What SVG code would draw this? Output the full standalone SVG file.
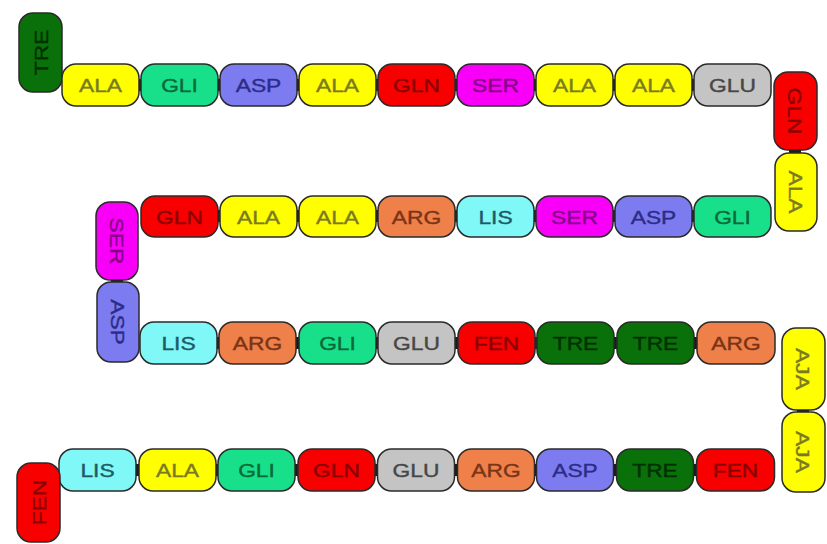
<svg xmlns="http://www.w3.org/2000/svg" width="827" height="544" viewBox="0 0 827 544">
<style>
rect{stroke:#2a2a2a;stroke-width:1.5}
text{font-family:"Liberation Sans",Arial,sans-serif;font-size:19px;text-anchor:middle;stroke-width:0.4}
.ala rect{fill:#ffff00}.ala text{fill:#7a7a24;stroke:#7a7a24}
.gli rect{fill:#18e08a}.gli text{fill:#0a6a3a;stroke:#0a6a3a}
.asp rect{fill:#7c7cf0}.asp text{fill:#2c2c88;stroke:#2c2c88}
.gln rect{fill:#f80000}.gln text{fill:#8a0000;stroke:#8a0000}
.ser rect{fill:#f800f8}.ser text{fill:#860086;stroke:#860086}
.glu rect{fill:#c4c4c4}.glu text{fill:#474747;stroke:#474747}
.lis rect{fill:#80f8f8}.lis text{fill:#1e5a66;stroke:#1e5a66}
.arg rect{fill:#f0804a}.arg text{fill:#7a3416;stroke:#7a3416}
.tre rect{fill:#0a700a}.tre text{fill:#003000;stroke:#003000}
.fen rect{fill:#f80000}.fen text{fill:#8a0000;stroke:#8a0000}
#conn path{stroke:#1a1a1a;stroke-width:12;fill:none}
</style>
<rect x="0" y="0" width="827" height="544" fill="#ffffff" style="stroke:none"/>
<g id="conn">
<path d="M130 85H150M209 85H229M288 85H308M367 85H387M446 85H466M525 85H545M604 85H624M683 85H703"/>
<path d="M209 216H229M288 216H308M367 216H387M446 216H466M525 216H545M604 216H624M683 216H703"/>
<path d="M208 343H228M287 343H308M367 343H387M446 343H467M526 343H546M605 343H626M685 343H706"/>
<path d="M127 470H148M207 470H227M286 470H307M366 470H386M445 470H466M525 470H545M604 470H625M684 470H705"/>
<path d="M795 140V163M117 270V292M803 400V422"/>
</g>
<!-- row 1 -->
<g id="tre1" class="tre" transform="translate(40.5,52.5)"><rect x="-21.5" y="-39.5" width="43" height="79" rx="14"/><text transform="rotate(-90) scale(1.2,1)" y="7">TRE</text></g>
<g id="ala1" class="ala" transform="translate(100.5,85)"><rect x="-38.5" y="-21" width="77" height="42" rx="14"/><text transform="scale(1.2,1)" y="7">ALA</text></g>
<g id="gli1" class="gli" transform="translate(179.5,85)"><rect x="-38.5" y="-21" width="77" height="42" rx="14"/><text transform="scale(1.2,1)" y="7">GLI</text></g>
<g id="asp1" class="asp" transform="translate(258.5,85)"><rect x="-38.5" y="-21" width="77" height="42" rx="14"/><text transform="scale(1.2,1)" y="7">ASP</text></g>
<g id="ala2" class="ala" transform="translate(337.5,85)"><rect x="-38.5" y="-21" width="77" height="42" rx="14"/><text transform="scale(1.2,1)" y="7">ALA</text></g>
<g id="gln1" class="gln" transform="translate(416.5,85)"><rect x="-38.5" y="-21" width="77" height="42" rx="14"/><text transform="scale(1.2,1)" y="7">GLN</text></g>
<g id="ser1" class="ser" transform="translate(495.5,85)"><rect x="-38.5" y="-21" width="77" height="42" rx="14"/><text transform="scale(1.2,1)" y="7">SER</text></g>
<g id="ala3" class="ala" transform="translate(574.5,85)"><rect x="-38.5" y="-21" width="77" height="42" rx="14"/><text transform="scale(1.2,1)" y="7">ALA</text></g>
<g id="ala4" class="ala" transform="translate(653.5,85)"><rect x="-38.5" y="-21" width="77" height="42" rx="14"/><text transform="scale(1.2,1)" y="7">ALA</text></g>
<g id="glu1" class="glu" transform="translate(732.5,85)"><rect x="-38.5" y="-21" width="77" height="42" rx="14"/><text transform="scale(1.2,1)" y="7">GLU</text></g>
<!-- right column 1 -->
<g id="gln2" class="gln" transform="translate(795.5,111)"><rect x="-21.5" y="-39" width="43" height="78" rx="14"/><text transform="rotate(90) scale(1.2,1)" y="7">GLN</text></g>
<g id="ala5" class="ala" transform="translate(796,192)"><rect x="-21" y="-39" width="42" height="78" rx="14"/><text transform="rotate(90) scale(1.2,1)" y="7">ALA</text></g>
<!-- row 2 -->
<g id="gli2" class="gli" transform="translate(732.5,216.5)"><rect x="-38.5" y="-20.5" width="77" height="41" rx="14"/><text transform="scale(1.2,1)" y="7">GLI</text></g>
<g id="asp2" class="asp" transform="translate(653.5,216.5)"><rect x="-38.5" y="-20.5" width="77" height="41" rx="14"/><text transform="scale(1.2,1)" y="7">ASP</text></g>
<g id="ser2" class="ser" transform="translate(574.5,216.5)"><rect x="-38.5" y="-20.5" width="77" height="41" rx="14"/><text transform="scale(1.2,1)" y="7">SER</text></g>
<g id="lis1" class="lis" transform="translate(495.5,216.5)"><rect x="-38.5" y="-20.5" width="77" height="41" rx="14"/><text transform="scale(1.2,1)" y="7">LIS</text></g>
<g id="arg1" class="arg" transform="translate(416.5,216.5)"><rect x="-38.5" y="-20.5" width="77" height="41" rx="14"/><text transform="scale(1.2,1)" y="7">ARG</text></g>
<g id="ala6" class="ala" transform="translate(337.5,216.5)"><rect x="-38.5" y="-20.5" width="77" height="41" rx="14"/><text transform="scale(1.2,1)" y="7">ALA</text></g>
<g id="ala7" class="ala" transform="translate(258.5,216.5)"><rect x="-38.5" y="-20.5" width="77" height="41" rx="14"/><text transform="scale(1.2,1)" y="7">ALA</text></g>
<g id="gln3" class="gln" transform="translate(179.5,216.5)"><rect x="-38.5" y="-20.5" width="77" height="41" rx="14"/><text transform="scale(1.2,1)" y="7">GLN</text></g>
<!-- left column -->
<g id="ser3" class="ser" transform="translate(117,241)"><rect x="-21" y="-39" width="42" height="78" rx="14"/><text transform="rotate(90) scale(1.2,1)" y="7">SER</text></g>
<g id="asp3" class="asp" transform="translate(118,322)"><rect x="-21" y="-40" width="42" height="80" rx="14"/><text transform="rotate(90) scale(1.2,1)" y="7">ASP</text></g>
<!-- row 3 -->
<g id="lis2" class="lis" transform="translate(178.5,343)"><rect x="-38.5" y="-21" width="77" height="42" rx="14"/><text transform="scale(1.2,1)" y="7">LIS</text></g>
<g id="arg2" class="arg" transform="translate(257.5,343)"><rect x="-38.5" y="-21" width="77" height="42" rx="14"/><text transform="scale(1.2,1)" y="7">ARG</text></g>
<g id="gli3" class="gli" transform="translate(337.5,343)"><rect x="-38.5" y="-21" width="77" height="42" rx="14"/><text transform="scale(1.2,1)" y="7">GLI</text></g>
<g id="glu2" class="glu" transform="translate(416.5,343)"><rect x="-38.5" y="-21" width="77" height="42" rx="14"/><text transform="scale(1.2,1)" y="7">GLU</text></g>
<g id="fen1" class="fen" transform="translate(496.5,343)"><rect x="-38.5" y="-21" width="77" height="42" rx="14"/><text transform="scale(1.2,1)" y="7">FEN</text></g>
<g id="tre2" class="tre" transform="translate(575.5,343)"><rect x="-38.5" y="-21" width="77" height="42" rx="14"/><text transform="scale(1.2,1)" y="7">TRE</text></g>
<g id="tre3" class="tre" transform="translate(655.5,343)"><rect x="-38.5" y="-21" width="77" height="42" rx="14"/><text transform="scale(1.2,1)" y="7">TRE</text></g>
<g id="arg3" class="arg" transform="translate(736,343)"><rect x="-39" y="-21" width="78" height="42" rx="14"/><text transform="scale(1.2,1)" y="7">ARG</text></g>
<!-- right column 2 -->
<g id="aja1" class="ala" transform="translate(803.5,369)"><rect x="-21.5" y="-41" width="43" height="82" rx="14"/><text transform="rotate(90) scale(1.2,1)" y="7">AJA</text></g>
<g id="aja2" class="ala" transform="translate(803.5,452)"><rect x="-21.5" y="-40" width="43" height="80" rx="14"/><text transform="rotate(90) scale(1.2,1)" y="7">AJA</text></g>
<!-- row 4 -->
<g id="fen2" class="fen" transform="translate(735.5,470)"><rect x="-39" y="-21" width="78" height="42" rx="14"/><text transform="scale(1.2,1)" y="7">FEN</text></g>
<g id="tre4" class="tre" transform="translate(655,470)"><rect x="-38.5" y="-21" width="77" height="42" rx="14"/><text transform="scale(1.2,1)" y="7">TRE</text></g>
<g id="asp4" class="asp" transform="translate(575,470)"><rect x="-38.5" y="-21" width="77" height="42" rx="14"/><text transform="scale(1.2,1)" y="7">ASP</text></g>
<g id="arg4" class="arg" transform="translate(496,470)"><rect x="-38.5" y="-21" width="77" height="42" rx="14"/><text transform="scale(1.2,1)" y="7">ARG</text></g>
<g id="glu3" class="glu" transform="translate(416,470)"><rect x="-38.5" y="-21" width="77" height="42" rx="14"/><text transform="scale(1.2,1)" y="7">GLU</text></g>
<g id="gln4" class="gln" transform="translate(336.5,470)"><rect x="-38.5" y="-21" width="77" height="42" rx="14"/><text transform="scale(1.2,1)" y="7">GLN</text></g>
<g id="gli4" class="gli" transform="translate(256.5,470)"><rect x="-38.5" y="-21" width="77" height="42" rx="14"/><text transform="scale(1.2,1)" y="7">GLI</text></g>
<g id="ala8" class="ala" transform="translate(177.5,470)"><rect x="-38.5" y="-21" width="77" height="42" rx="14"/><text transform="scale(1.2,1)" y="7">ALA</text></g>
<g id="lis3" class="lis" transform="translate(97.5,470)"><rect x="-38.5" y="-21" width="77" height="42" rx="14"/><text transform="scale(1.2,1)" y="7">LIS</text></g>
<!-- left end -->
<g id="fen3" class="fen" transform="translate(38.5,502.5)"><rect x="-21.5" y="-39.5" width="43" height="79" rx="14"/><text transform="rotate(-90) scale(1.2,1)" y="7">FEN</text></g>
</svg>
